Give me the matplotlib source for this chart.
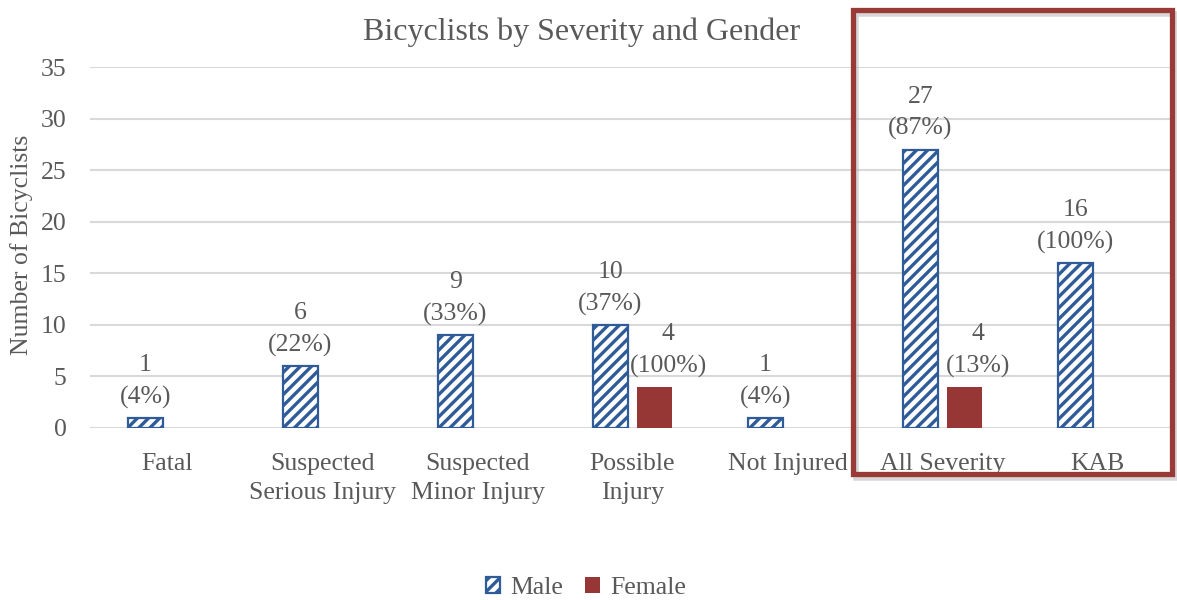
import matplotlib.pyplot as plt
from matplotlib.patches import Rectangle
import numpy as np

categories = ['Fatal', 'Suspected\nSerious Injury', 'Suspected\nMinor Injury',
              'Possible\nInjury', 'Not Injured', 'All Severity', 'KAB']
male = [1, 6, 9, 10, 1, 27, 16]
female = [0, 0, 0, 4, 0, 4, 0]
male_pct = [4, 22, 33, 37, 4, 87, 100]
female_pct = [None, None, None, 100, None, 13, None]

BLUE = '#2f5c98'
RED = '#973735'
TEXT = '#595959'
GRID = '#d9d9d9'

plt.rcParams['font.family'] = ['Liberation Serif', 'DejaVu Serif']
plt.rcParams['hatch.linewidth'] = 2.4

W, H = 1177, 600
fig = plt.figure(figsize=(W / 100, H / 100), dpi=100)
ax = fig.add_axes([90 / W, 1 - 428 / H, 1085 / W, (428 - 67) / H])

x = np.arange(len(categories))
off, bw = 0.142, 0.226
mb = ax.bar(x - off, male, bw, facecolor='white', edgecolor=BLUE,
            hatch='///', linewidth=1.6, label='Male', zorder=3)
fb = ax.bar(x + off, female, bw, color=RED, label='Female', zorder=3)

for i in range(len(categories)):
    ax.annotate('%d\n(%d%%)' % (male[i], male_pct[i]), (x[i] - off, male[i]),
                xytext=(0, 6.5), textcoords='offset points', ha='center', va='bottom',
                fontsize=18.5, color=TEXT, linespacing=1.55)
    if female_pct[i] is not None:
        ax.annotate('%d\n(%d%%)' % (female[i], female_pct[i]), (x[i] + off, female[i]),
                    xytext=(10, 6.5), textcoords='offset points', ha='center', va='bottom',
                    fontsize=18.5, color=TEXT, linespacing=1.55)

ax.set_xlim(-0.5, len(categories) - 0.5)
ax.set_ylim(0, 35)
ax.set_yticks(range(0, 36, 5))
ax.set_xticks(x)
ax.set_xticklabels(categories, linespacing=1.4)
ax.tick_params(axis='both', length=0, labelsize=18.5, labelcolor=TEXT)
ax.tick_params(axis='x', pad=18)
ax.tick_params(axis='y', pad=17)
ax.yaxis.grid(True, color=GRID, linewidth=1.5, zorder=0)
ax.set_axisbelow(True)
for s in ax.spines.values():
    s.set_visible(False)

fig.text(22 / W, 1 - 245 / H, 'Number of Bicyclists', rotation=90, ha='center',
         va='center', fontsize=18.5, color=TEXT)
fig.text(582 / W, 1 - 32 / H, 'Bicyclists by Severity and Gender', ha='center',
         va='center', fontsize=23, color=TEXT)

fig.legend(handles=[mb, fb], loc='center', bbox_to_anchor=(586 / W, 1 - 588 / H),
           ncol=2, frameon=False, fontsize=18.5, labelcolor=TEXT,
           handlelength=0.55, handleheight=0.55, handletextpad=0.4, columnspacing=0.85)

# highlight box round the last two groups
shadow = Rectangle((856 / W, 1 - 478 / H), 319 / W, 464 / H, transform=fig.transFigure,
                   fill=False, edgecolor='#b0b0b0', linewidth=4, alpha=0.5)
box = Rectangle((853 / W, 1 - 474 / H), 319 / W, 464 / H, transform=fig.transFigure,
                fill=False, edgecolor='#9a3a38', linewidth=3.8)
fig.patches.extend([shadow, box])

fig.savefig('out.png', dpi=100)
